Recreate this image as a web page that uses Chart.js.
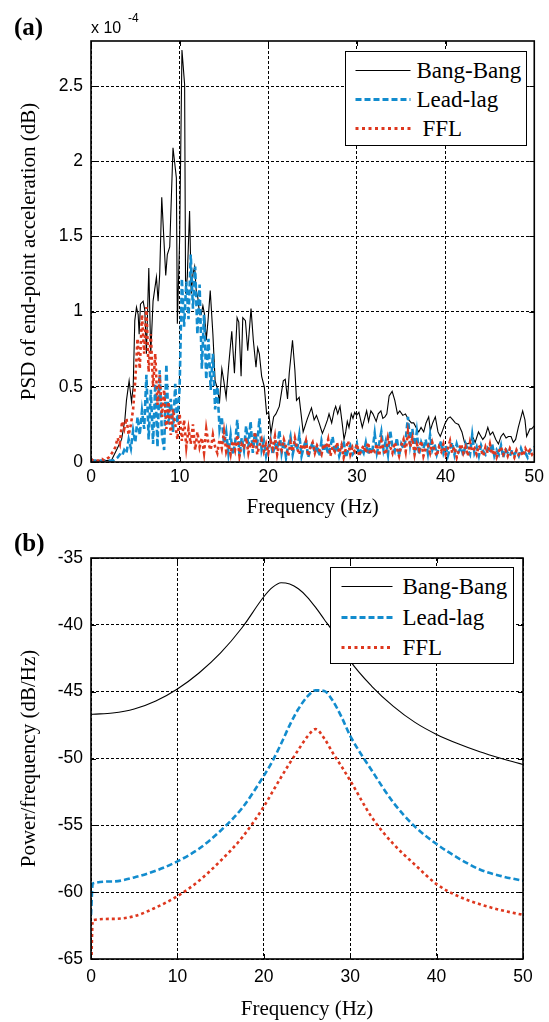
<!DOCTYPE html>
<html>
<head>
<meta charset="utf-8">
<script src="https://cdn.jsdelivr.net/npm/chart.js@4.4.0/dist/chart.umd.min.js"></script>
<style>
  body { margin: 0; background: #fff; width: 549px; height: 1022px; position: relative; overflow: hidden; }
  .wrap { position: absolute; left: 0; width: 549px; }
  .tag { position: absolute; font: bold 25px "Liberation Serif", serif; line-height: 28px; color: #000; }
  .exp { position: absolute; font: 16px "Liberation Sans", sans-serif; color: #000; line-height: 18px; }
  .legend { position: absolute; background: #fff; border: 1.5px solid #000; box-sizing: border-box; }
  .legend svg { position: absolute; left: 0; top: 0; }
  .legend span { position: absolute; font: 23px "Liberation Serif", serif; line-height: 26px; color: #000; white-space: pre; }
</style>
</head>
<body>
<div class="wrap" style="top:0;height:520px"><canvas id="chartA" width="549" height="520"></canvas></div>
<div class="wrap" style="top:511px;height:511px"><canvas id="chartB" width="549" height="511"></canvas></div>

<div class="tag" style="left:14px;top:13px">(a)</div>
<div class="tag" style="left:14px;top:529px">(b)</div>
<div class="exp" style="left:91px;top:19px">x 10</div>
<div class="exp" style="left:128px;top:9px;font-size:12px">-4</div>

<div class="legend" style="left:345px;top:51px;width:182px;height:95px">
  <svg width="180" height="92">
    <line x1="9.5" y1="18.5" x2="64.5" y2="18.5" stroke="#000" stroke-width="1.2"/>
    <line x1="9.5" y1="47.5" x2="64.5" y2="47.5" stroke="#128cce" stroke-width="3" stroke-dasharray="6 3"/>
    <line x1="9.5" y1="76.5" x2="64.5" y2="76.5" stroke="#de371e" stroke-width="3" stroke-dasharray="3 3.5"/>
  </svg>
  <span id="legA0" style="left:70.5px;top:5.5px"></span>
  <span id="legA1" style="left:70.5px;top:34.5px"></span>
  <span id="legA2" style="left:76.5px;top:63.5px"></span>
</div>

<div class="legend" style="left:330px;top:567px;width:184px;height:97px">
  <svg width="182" height="94">
    <line x1="10.5" y1="18.5" x2="61.5" y2="18.5" stroke="#000" stroke-width="1.2"/>
    <line x1="10.5" y1="49.5" x2="61.5" y2="49.5" stroke="#128cce" stroke-width="3" stroke-dasharray="6 3"/>
    <line x1="10.5" y1="79.5" x2="61.5" y2="79.5" stroke="#de371e" stroke-width="3" stroke-dasharray="3 3.5"/>
  </svg>
  <span id="legB0" style="left:71.5px;top:5.5px"></span>
  <span id="legB1" style="left:71.5px;top:36.5px"></span>
  <span id="legB2" style="left:71.5px;top:66.5px"></span>
</div>

<script>
const seriesNames = ['Bang-Bang', 'Lead-lag', 'FFL'];
const xTicks = [0, 10, 20, 30, 40, 50];
const yTicksA = [0, 0.5, 1, 1.5, 2, 2.5];
const yTicksB = [-65, -60, -55, -50, -45, -40, -35];

// panel (a): PSD values in units of 1e-4
const bangFreqA = [0, 1, 2.3, 2.88, 3.45, 3.82, 4, 4.3, 4.57, 4.76, 4.94, 5.13, 5.32, 5.43, 5.58, 5.88, 6.07, 6.25, 6.52, 6.74,
  7, 7.38, 7.57, 7.75, 7.98, 8.43, 8.61, 8.88, 9.25, 9.63, 9.74, 10, 10.26, 10.56, 10.67, 10.86, 11.12, 11.31, 11.5, 11.69,
  11.87, 12.06, 12.25, 12.43, 12.62, 12.81, 13.0, 13.2, 13.45, 13.75, 14.0, 14.31, 14.49, 14.76, 14.98, 15.24, 15.54, 15.88, 16.18, 16.48,
  16.67, 16.93, 17.12, 17.42, 17.68, 18.05, 18.31, 18.61, 18.8, 18.99, 19.25, 19.55, 19.81, 20.04, 20.3, 20.6, 20.86, 21.24, 21.69, 21.91,
  22.17, 22.36, 22.73, 23.0, 23.18, 23.48, 23.93, 24.42, 24.87, 25.17, 25.43, 25.73, 26.1, 26.37, 26.67, 26.85, 27.15, 27.42, 27.6, 27.83,
  28.09, 28.35, 28.54, 28.73, 28.91, 29.1, 29.36, 29.55, 29.74, 29.96, 30.22, 30.6, 30.82, 31.09, 31.31, 31.57, 31.8, 32.17, 32.4, 32.7,
  32.92, 33.15, 33.37, 33.63, 33.97, 34.27, 34.57, 34.83, 35.17, 35.47, 35.84, 36.14, 36.4, 36.67, 36.97, 37.23, 37.53, 37.79, 38.09, 38.28,
  38.54, 38.84, 39.14, 39.4, 39.66, 39.96, 40.26, 40.52, 40.82, 41.09, 41.46, 41.84, 42.13, 42.51, 42.77, 43.03, 43.33, 43.71, 43.9, 44.19,
  44.46, 44.76, 45.02, 45.32, 45.66, 45.96, 46.25, 46.52, 46.82, 47.08, 47.38, 47.64, 47.9, 48.2, 48.69, 48.95, 49.14, 49.51, 49.7, 50];
const bangA = [0.01, 0.01, 0.01, 0.08, 0.15, 0.28, 0.41, 0.54, 0.40, 0.50, 0.94, 1.03, 0.98, 0.85, 1.05, 1.07, 1.01, 0.72, 1.29, 0.72,
  1.07, 1.23, 1.07, 1.25, 1.76, 1.24, 1.38, 1.43, 2.09, 1.89, 0.92, 1.49, 2.74, 2.51, 1.12, 1.23, 1.67, 1.12, 1.25, 1.30,
  1.14, 1.09, 0.98, 0.98, 1.04, 0.98, 0.81, 0.94, 1.14, 0.85, 0.54, 0.48, 0.39, 0.62, 0.54, 0.43, 0.65, 0.87, 0.59, 0.96,
  0.93, 0.57, 0.96, 0.94, 0.74, 1.02, 0.81, 0.63, 0.76, 0.72, 0.57, 0.50, 0.32, 0.33, 0.19, 0.30, 0.32, 0.37, 0.54, 0.55,
  0.42, 0.59, 0.81, 0.61, 0.41, 0.43, 0.20, 0.29, 0.36, 0.28, 0.31, 0.26, 0.19, 0.23, 0.28, 0.32, 0.26, 0.34, 0.37, 0.32,
  0.37, 0.25, 0.15, 0.20, 0.27, 0.23, 0.32, 0.29, 0.33, 0.31, 0.33, 0.23, 0.28, 0.34, 0.27, 0.34, 0.32, 0.27, 0.32, 0.34,
  0.29, 0.30, 0.32, 0.44, 0.47, 0.41, 0.32, 0.34, 0.31, 0.32, 0.28, 0.26, 0.26, 0.23, 0.20, 0.23, 0.20, 0.26, 0.30, 0.21,
  0.26, 0.30, 0.20, 0.17, 0.21, 0.26, 0.29, 0.30, 0.28, 0.26, 0.25, 0.20, 0.13, 0.12, 0.13, 0.17, 0.13, 0.20, 0.18, 0.15,
  0.17, 0.23, 0.18, 0.20, 0.15, 0.12, 0.17, 0.19, 0.16, 0.17, 0.17, 0.13, 0.15, 0.23, 0.34, 0.28, 0.17, 0.22, 0.22, 0.24];

const freqA = [0, 0.25, 0.5, 0.75, 1, 1.25, 1.5, 1.75, 2, 2.25, 2.5, 2.75, 3, 3.25, 3.5, 3.75, 4, 4.25, 4.5, 4.75,
  5, 5.25, 5.5, 5.75, 6, 6.25, 6.5, 6.75, 7, 7.25, 7.5, 7.75, 8, 8.25, 8.5, 8.75, 9, 9.25, 9.5, 9.75,
  10, 10.25, 10.5, 10.75, 11, 11.25, 11.5, 11.75, 12, 12.25, 12.5, 12.75, 13, 13.25, 13.5, 13.75, 14, 14.25, 14.5, 14.75,
  15, 15.25, 15.5, 15.75, 16, 16.25, 16.5, 16.75, 17, 17.25, 17.5, 17.75, 18, 18.25, 18.5, 18.75, 19, 19.25, 19.5, 19.75,
  20, 20.25, 20.5, 20.75, 21, 21.25, 21.5, 21.75, 22, 22.25, 22.5, 22.75, 23, 23.25, 23.5, 23.75, 24, 24.25, 24.5, 24.75,
  25, 25.25, 25.5, 25.75, 26, 26.25, 26.5, 26.75, 27, 27.25, 27.5, 27.75, 28, 28.25, 28.5, 28.75, 29, 29.25, 29.5, 29.75,
  30, 30.25, 30.5, 30.75, 31, 31.25, 31.5, 31.75, 32, 32.25, 32.5, 32.75, 33, 33.25, 33.5, 33.75, 34, 34.25, 34.5, 34.75,
  35, 35.25, 35.5, 35.75, 36, 36.25, 36.5, 36.75, 37, 37.25, 37.5, 37.75, 38, 38.25, 38.5, 38.75, 39, 39.25, 39.5, 39.75,
  40, 40.25, 40.5, 40.75, 41, 41.25, 41.5, 41.75, 42, 42.25, 42.5, 42.75, 43, 43.25, 43.5, 43.75, 44, 44.25, 44.5, 44.75,
  45, 45.25, 45.5, 45.75, 46, 46.25, 46.5, 46.75, 47, 47.25, 47.5, 47.75, 48, 48.25, 48.5, 48.75, 49, 49.25, 49.5, 49.75,
  50];
const leadLagA = [
  0.02, 0.01, 0.01, 0.01, 0.01, 0.01, 0.01, 0.01, 0.01, 0.01, 0.01, 0.02,
  0.03, 0.05, 0.04, 0.08, 0.06, 0.15, 0.09, 0.21, 0.13, 0.30, 0.18, 0.34,
  0.22, 0.58, 0.15, 0.48, 0.12, 0.52, 0.10, 0.61, 0.18, 0.08, 0.65, 0.25,
  0.42, 0.20, 0.52, 0.26, 0.50, 1.22, 0.90, 1.20, 0.95, 1.38, 1.02, 1.30,
  0.85, 1.18, 0.62, 0.98, 0.55, 0.82, 0.48, 0.72, 0.35, 0.50, 0.22, 0.30,
  0.12, 0.20, 0.06, 0.18, 0.05, 0.12, 0.28, 0.04, 0.16, 0.08, 0.24, 0.10,
  0.27, 0.06, 0.20, 0.12, 0.29, 0.08, 0.14, 0.04, 0.10, 0.15, 0.05, 0.12,
  0.08, 0.21, 0.06, 0.14, 0.03, 0.11, 0.17, 0.05, 0.12, 0.08, 0.18, 0.04,
  0.10, 0.15, 0.03, 0.09, 0.13, 0.06, 0.11, 0.04, 0.14, 0.07, 0.12, 0.05,
  0.10, 0.17, 0.06, 0.12, 0.04, 0.09, 0.14, 0.03, 0.08, 0.11, 0.05, 0.07,
  0.12, 0.04, 0.09, 0.06, 0.13, 0.05, 0.10, 0.08, 0.19, 0.06, 0.12, 0.20,
  0.08, 0.14, 0.05, 0.21, 0.10, 0.07, 0.16, 0.04, 0.12, 0.09, 0.15, 0.30,
  0.12, 0.22, 0.08, 0.20, 0.05, 0.13, 0.09, 0.15, 0.06, 0.18, 0.08, 0.12,
  0.05, 0.10, 0.14, 0.06, 0.11, 0.04, 0.09, 0.13, 0.05, 0.12, 0.07, 0.10,
  0.04, 0.12, 0.08, 0.05, 0.18, 0.06, 0.10, 0.04, 0.11, 0.07, 0.05, 0.09,
  0.06, 0.12, 0.04, 0.08, 0.05, 0.11, 0.03, 0.09, 0.06, 0.04, 0.08, 0.05,
  0.07, 0.04, 0.09, 0.05, 0.06, 0.03, 0.07, 0.09, 0.10];
const fflA = [
  0.02, 0.01, 0.01, 0.01, 0.01, 0.02, 0.01, 0.02,
  0.03, 0.05, 0.07, 0.10, 0.16, 0.12, 0.27, 0.22,
  0.29, 0.18, 0.25, 0.35, 0.55, 0.82, 0.62, 0.98,
  0.72, 1.03, 0.60, 0.85, 0.50, 0.72, 0.38, 0.58,
  0.30, 0.48, 0.22, 0.40, 0.18, 0.35, 0.25, 0.15,
  0.32, 0.14, 0.28, 0.10, 0.22, 0.12, 0.25, 0.08,
  0.20, 0.10, 0.16, 0.06, 0.22, 0.12, 0.08, 0.18,
  0.10, 0.06, 0.15, 0.09, 0.20, 0.07, 0.12, 0.05,
  0.14, 0.08, 0.18, 0.04, 0.12, 0.10, 0.16, 0.06,
  0.13, 0.09, 0.20, 0.05, 0.11, 0.15, 0.07, 0.12,
  0.06, 0.14, 0.09, 0.17, 0.05, 0.12, 0.08, 0.15,
  0.10, 0.04, 0.13, 0.07, 0.16, 0.09, 0.05, 0.12,
  0.08, 0.14, 0.04, 0.10, 0.13, 0.06, 0.11, 0.08,
  0.05, 0.12, 0.09, 0.15, 0.04, 0.10, 0.07, 0.13,
  0.06, 0.11, 0.03, 0.09, 0.14, 0.05, 0.10, 0.07,
  0.12, 0.04, 0.08, 0.11, 0.06, 0.13, 0.05, 0.09,
  0.07, 0.12, 0.04, 0.14, 0.08, 0.05, 0.16, 0.10,
  0.06, 0.13, 0.09, 0.04, 0.11, 0.15, 0.07, 0.20,
  0.10, 0.16, 0.05, 0.12, 0.08, 0.14, 0.04, 0.09,
  0.11, 0.06, 0.13, 0.08, 0.04, 0.10, 0.07, 0.12,
  0.05, 0.09, 0.14, 0.06, 0.10, 0.03, 0.08, 0.12,
  0.06, 0.10, 0.04, 0.13, 0.07, 0.09, 0.05, 0.11,
  0.08, 0.04, 0.10, 0.06, 0.12, 0.05, 0.08, 0.03,
  0.07, 0.10, 0.05, 0.08, 0.04, 0.09, 0.06, 0.03,
  0.08, 0.05, 0.07, 0.04, 0.09, 0.06, 0.08, 0.05,
  0.07];

// panel (b): power/frequency in dB/Hz
const freqB = [0, 0.2, 2.5, 5, 7.5, 10, 12.5, 15, 17.5, 20, 21, 22, 23, 24, 25, 26, 27, 28, 29, 30, 32.5, 35, 37.5, 40, 42.5, 45, 47.5, 50];
const bangB = [-46.7, -46.69, -46.6, -46.3, -45.7, -44.8, -43.6, -42.1, -40.2, -37.9, -37.2, -36.85, -36.95, -37.3, -37.9, -38.7, -39.6, -40.5, -41.6, -42.7, -44.6, -46.1, -47.3, -48.2, -48.9, -49.5, -50.0, -50.45];
const leadLagB = [-61.7, -59.35, -59.2, -58.9, -58.4, -57.7, -56.75, -55.4, -53.7, -51.3, -50.2, -48.9, -47.5, -46.3, -45.4, -44.9, -44.95, -45.7, -46.9, -48.3, -50.9, -53.3, -55.1, -56.4, -57.45, -58.3, -58.8, -59.15];
const fflB = [-66.5, -62.1, -62.0, -61.8, -61.15, -60.3, -59.15, -57.65, -55.9, -53.6, -52.5, -51.4, -50.35, -49.35, -48.4, -47.8, -48.5, -49.6, -50.6, -51.65, -54.4, -56.4, -57.95, -59.4, -60.3, -60.9, -61.35, -61.7];

const colors = ['#000000', '#128cce', '#de371e'];
const tickFont = { family: 'Liberation Sans', size: 17.5 };
const titleFont = { family: 'Liberation Serif', size: 21 };

seriesNames.forEach((n, i) => {
  document.getElementById('legA' + i).textContent = n;
  document.getElementById('legB' + i).textContent = n;
});

function pts(xs, ys) {
  return xs.map((x, i) => ({ x: x, y: ys[i] }));
}

// box frame and inward tick marks like the original figure
const frame = {
  id: 'frame',
  afterDatasetsDraw(chart) {
    const { ctx, chartArea: a, scales } = chart;
    ctx.save();
    ctx.setLineDash([]);
    ctx.strokeStyle = '#000';
    ctx.lineWidth = 1;
    ctx.beginPath();
    scales.x.ticks.forEach(t => {
      const px = Math.round(scales.x.getPixelForValue(t.value)) + 0.5;
      ctx.moveTo(px, a.bottom); ctx.lineTo(px, a.bottom - 5);
      ctx.moveTo(px, a.top); ctx.lineTo(px, a.top + 5);
    });
    scales.y.ticks.forEach(t => {
      const py = Math.round(scales.y.getPixelForValue(t.value)) + 0.5;
      ctx.moveTo(a.left, py); ctx.lineTo(a.left + 5, py);
      ctx.moveTo(a.right, py); ctx.lineTo(a.right - 5, py);
    });
    ctx.stroke();
    ctx.lineWidth = 1.6;
    ctx.strokeRect(a.left, a.top, a.right - a.left, a.bottom - a.top);
    ctx.restore();
  }
};

function makeChart(id, datasets, o) {
  return new Chart(document.getElementById(id), {
    type: 'line',
    data: { datasets: datasets },
    options: {
      responsive: false,
      animation: false,
      events: [],
      layout: { padding: o.pad },
      plugins: { legend: { display: false }, tooltip: { enabled: false } },
      elements: { point: { radius: 0 } },
      scales: {
        x: {
          type: 'linear', min: 0, max: 50,
          afterBuildTicks: s => { s.ticks = xTicks.map(v => ({ value: v })); },
          afterFit: s => { s.height = o.xh; },
          grid: { color: '#000', lineWidth: 1, drawTicks: false },
          border: { display: false, dash: [3, 2] },
          ticks: { color: '#000', padding: o.xpad, maxRotation: 0, autoSkip: false, font: tickFont, callback: v => String(v) },
          title: { display: true, text: 'Frequency (Hz)', color: '#000', font: titleFont, padding: { top: 0, bottom: 0 } }
        },
        y: {
          type: 'linear', min: o.ymin, max: o.ymax,
          afterBuildTicks: s => { s.ticks = o.yticks.map(v => ({ value: v })); },
          afterFit: s => { s.width = 91; },
          grid: { color: '#000', lineWidth: 1, drawTicks: false },
          border: { display: false, dash: [3, 2] },
          ticks: { color: '#000', padding: 8, autoSkip: false, font: tickFont, callback: v => String(v) },
          title: { display: true, text: o.ytitle, color: '#000', font: titleFont, padding: { top: 17, bottom: 0 } }
        }
      }
    },
    plugins: [frame]
  });
}

makeChart('chartA', [
  { label: seriesNames[0], data: pts(bangFreqA, bangA), borderColor: colors[0], borderWidth: 1.1, tension: 0, order: 3 },
  { label: seriesNames[1], data: pts(freqA, leadLagA), borderColor: colors[1], borderWidth: 2.6, borderDash: [6, 3], tension: 0, order: 2 },
  { label: seriesNames[2], data: pts(freqA, fflA), borderColor: colors[2], borderWidth: 2.6, borderDash: [3, 3], tension: 0, order: 1 }
], { pad: { left: 0, top: 41, right: 13, bottom: 0 }, xh: 58, xpad: 5, ymin: 0, ymax: 2.8, yticks: yTicksA, ytitle: 'PSD of end-point acceleration (dB)' });

makeChart('chartB', [
  { label: seriesNames[0], data: pts(freqB, bangB), borderColor: colors[0], borderWidth: 1.1, cubicInterpolationMode: 'monotone', order: 3 },
  { label: seriesNames[1], data: pts(freqB, leadLagB), borderColor: colors[1], borderWidth: 2.6, borderDash: [6, 3], cubicInterpolationMode: 'monotone', order: 2 },
  { label: seriesNames[2], data: pts(freqB, fflB), borderColor: colors[2], borderWidth: 2.6, borderDash: [3, 3], cubicInterpolationMode: 'monotone', order: 1 }
], { pad: { left: 0, top: 47, right: 26, bottom: 0 }, xh: 63, xpad: 8, ymin: -65, ymax: -35, yticks: yTicksB, ytitle: 'Power/frequency (dB/Hz)' });
</script>
</body>
</html>
